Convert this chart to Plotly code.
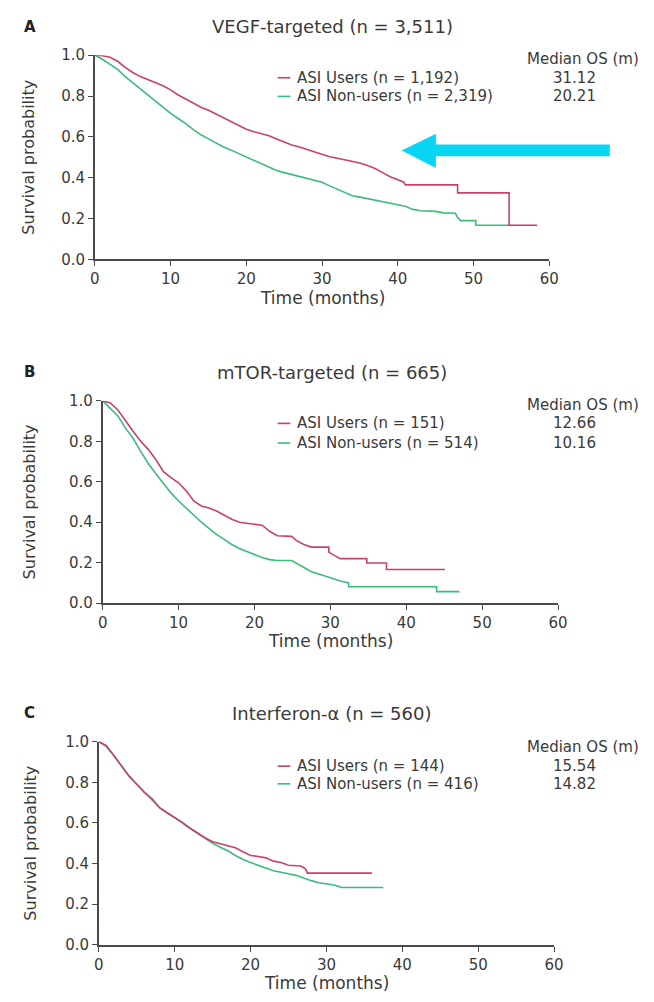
import plotly.graph_objects as go

W, H = 654, 1002

# ---------------- data ----------------
# Panel A: VEGF-targeted
a_users_t = [0, 1, 2, 3, 4, 5, 6, 7, 8, 9, 10, 11, 12, 13, 14, 15, 16, 17, 18, 19, 20, 21, 22, 23, 24, 25, 26, 27, 28, 29, 30,
             31, 32, 33, 34, 35, 36, 37, 38, 39, 40, 40.8, 41, 47.9, 47.9, 54.7, 54.7, 58.4]
a_users_s = [1.0, 0.997, 0.99, 0.97, 0.94, 0.915, 0.895, 0.88, 0.865, 0.85, 0.83, 0.805, 0.785, 0.765, 0.745, 0.73, 0.712,
             0.695, 0.675, 0.655, 0.637, 0.625, 0.615, 0.605, 0.59, 0.575, 0.56, 0.55, 0.538, 0.525, 0.512, 0.503, 0.495,
             0.487, 0.478, 0.472, 0.46, 0.445, 0.425, 0.405, 0.39, 0.378, 0.365, 0.365, 0.326, 0.326, 0.167, 0.167]
a_non_t = [0, 1, 2, 3, 4, 5, 6, 7, 8, 9, 10, 11, 12, 13, 14, 15, 16, 17, 18, 19, 20, 21, 22, 23, 24, 25, 26, 27, 28, 29, 30,
           31, 32, 33, 34, 35, 36, 37, 38, 39, 40, 41, 42, 43, 45, 46, 47.6, 47.9, 48.3, 50.3, 50.3, 54.7]
a_non_s = [1.0, 0.98, 0.955, 0.93, 0.895, 0.865, 0.835, 0.805, 0.775, 0.745, 0.715, 0.69, 0.665, 0.635, 0.61, 0.59, 0.57,
           0.55, 0.535, 0.518, 0.502, 0.485, 0.468, 0.45, 0.435, 0.425, 0.415, 0.405, 0.397, 0.388, 0.378, 0.36, 0.343,
           0.325, 0.312, 0.305, 0.298, 0.292, 0.285, 0.275, 0.268, 0.26, 0.245, 0.238, 0.235, 0.228, 0.226, 0.205, 0.19,
           0.19, 0.167, 0.167]

# Panel B: mTOR-targeted
b_users_t = [0, 1, 2, 3, 4, 5, 6, 7, 8, 9, 10, 11, 12, 13, 14, 15, 16, 17, 18, 19, 20, 21, 22, 23, 24.9, 25.5, 26.5, 27.5,
             29.8, 29.8, 30.5, 31.3, 34.8, 34.8, 37.4, 37.4, 45.1]
b_users_s = [1.0, 0.99, 0.955, 0.9, 0.85, 0.8, 0.76, 0.71, 0.65, 0.62, 0.595, 0.555, 0.505, 0.48, 0.47, 0.455, 0.435, 0.415,
             0.4, 0.395, 0.39, 0.385, 0.355, 0.333, 0.33, 0.31, 0.29, 0.277, 0.277, 0.252, 0.236, 0.22, 0.22, 0.198,
             0.198, 0.166, 0.166]
b_non_t = [0, 1, 2, 3, 4, 5, 6, 7, 8, 9, 10, 11, 12, 13, 14, 15, 16, 17, 18, 19, 20, 21, 22, 23, 24.9, 26, 27.5, 29.6, 31.3,
           32.4, 32.4, 44, 44, 47]
b_non_s = [1.0, 0.965, 0.925, 0.865, 0.815, 0.75, 0.69, 0.64, 0.59, 0.545, 0.505, 0.47, 0.432, 0.4, 0.37, 0.34, 0.315, 0.29,
           0.27, 0.255, 0.24, 0.225, 0.215, 0.211, 0.211, 0.187, 0.155, 0.13, 0.109, 0.1, 0.081, 0.081, 0.057, 0.057]

# Panel C: Interferon-alpha
c_users_t = [0, 1, 2, 3, 4, 5, 6, 7, 8, 9, 10, 11, 12, 13, 14, 15, 16, 17, 18, 19, 20, 21, 22, 23, 24, 25, 26.6, 27.2, 27.5, 36]
c_users_s = [1.0, 0.98, 0.93, 0.88, 0.83, 0.79, 0.75, 0.72, 0.675, 0.65, 0.628, 0.603, 0.575, 0.55, 0.527, 0.507, 0.498,
             0.487, 0.478, 0.458, 0.44, 0.435, 0.428, 0.412, 0.405, 0.392, 0.388, 0.375, 0.353, 0.353]
c_non_t = [0, 1, 2, 3, 4, 5, 6, 7, 8, 9, 10, 11, 12, 13, 14, 15, 16, 17, 18, 19, 20, 21, 22, 23, 24, 25, 26, 27, 28, 29, 30,
           31, 32, 37.5]
c_non_s = [1.0, 0.975, 0.93, 0.88, 0.83, 0.79, 0.752, 0.718, 0.675, 0.65, 0.626, 0.6, 0.573, 0.548, 0.524, 0.5, 0.48, 0.463,
           0.44, 0.42, 0.405, 0.39, 0.378, 0.365, 0.356, 0.35, 0.342, 0.328, 0.316, 0.306, 0.3, 0.295, 0.282, 0.282]

panel_letters = ["A", "B", "C"]
panel_titles = ["VEGF-targeted (n = 3,511)", "mTOR-targeted (n = 665)", "Interferon-α (n = 560)"]
users_labels = ["ASI Users (n = 1,192)", "ASI Users (n = 151)", "ASI Users (n = 144)"]
non_labels = ["ASI Non-users (n = 2,319)", "ASI Non-users (n = 514)", "ASI Non-users (n = 416)"]
users_median = ["31.12", "12.66", "15.54"]
non_median = ["20.21", "10.16", "14.82"]
x_ticks = [0, 10, 20, 30, 40, 50, 60]
y_ticks = [0.0, 0.2, 0.4, 0.6, 0.8, 1.0]

# ---------------- layout geometry (pixels) ----------------
RED = "#c9416b"
GREEN = "#3dbb7a"
TXT = "#3a3a3a"
AX = "#4a4a4a"
FONT = "DejaVu Sans"

def px(x):
    return x / W

def py(y):
    return 1 - y / H

# (x0, x60, y_top(1.0), y_bottom(0.0))
boxes = [(92, 557, 47, 255), (100, 566, 399, 605), (96, 562, 746, 953)]
title_y = [18, 370, 717]
xtitle_y = [294, 644, 992]
ytitle_x = [24, 26, 26]
leg_y = [(70, 89), (422, 442), (771, 789)]
med_y = [51, 403, 752]

series = [
    (a_users_t, a_users_s, a_non_t, a_non_s),
    (b_users_t, b_users_s, b_non_t, b_non_s),
    (c_users_t, c_users_s, c_non_t, c_non_s),
]

fig = go.Figure()
annotations = []
shapes = []

for i, (ut, us, nt, ns) in enumerate(series):
    k = "" if i == 0 else str(i + 1)
    fig.add_trace(go.Scatter(x=nt, y=ns, mode="lines", line=dict(color=GREEN, width=1.6),
                             xaxis="x" + k, yaxis="y" + k, showlegend=False, hoverinfo="skip"))
    fig.add_trace(go.Scatter(x=ut, y=us, mode="lines", line=dict(color=RED, width=1.6),
                             xaxis="x" + k, yaxis="y" + k, showlegend=False, hoverinfo="skip"))
    x0, x1, yt, yb = boxes[i]
    axis_common = dict(showgrid=False, zeroline=False, showline=True, linecolor=AX, linewidth=1.6,
                       ticks="outside", ticklen=5, tickwidth=1.4, tickcolor=AX,
                       tickfont=dict(family=FONT, size=15, color=TXT), fixedrange=True)
    fig.layout["xaxis" + k] = dict(domain=[px(x0), px(x1)], range=[0, 60], anchor="y" + k,
                                   tickvals=x_ticks, ticktext=[str(v) for v in x_ticks], **axis_common)
    fig.layout["yaxis" + k] = dict(domain=[py(yb), py(yt)], range=[0, 1], anchor="x" + k,
                                   tickvals=y_ticks, ticktext=["%.1f" % v for v in y_ticks], **axis_common)

    cx = (x0 + x1) / 2
    annotations.append(dict(text="<b>%s</b>" % panel_letters[i], x=px(17), y=py(title_y[i]), xref="paper", yref="paper",
                            xanchor="left", yanchor="middle", showarrow=False,
                            font=dict(family=FONT, size=15, color="#222")))
    annotations.append(dict(text=panel_titles[i], x=px(335), y=py(title_y[i]), xref="paper", yref="paper",
                            xanchor="center", yanchor="middle", showarrow=False,
                            font=dict(family=FONT, size=18, color=TXT)))
    annotations.append(dict(text="Time (months)", x=px(cx), y=py(xtitle_y[i]), xref="paper", yref="paper",
                            xanchor="center", yanchor="middle", showarrow=False,
                            font=dict(family=FONT, size=17, color=TXT)))
    annotations.append(dict(text="Survival probability", x=px(ytitle_x[i]), y=py((yt + yb) / 2), xref="paper",
                            yref="paper", xanchor="center", yanchor="middle", showarrow=False, textangle=-90,
                            font=dict(family=FONT, size=16, color=TXT)))
    # legend
    for (lab, col, ly) in [(users_labels[i], RED, leg_y[i][0]), (non_labels[i], GREEN, leg_y[i][1])]:
        shapes.append(dict(type="line", xref="paper", yref="paper", x0=px(279), x1=px(292), y0=py(ly), y1=py(ly),
                           line=dict(color=col, width=1.6)))
        annotations.append(dict(text=lab, x=px(297), y=py(ly), xref="paper", yref="paper", xanchor="left",
                                yanchor="middle", showarrow=False, font=dict(family=FONT, size=15, color=TXT)))
    annotations.append(dict(text="Median OS (m)", x=px(651), y=py(med_y[i]), xref="paper", yref="paper",
                            xanchor="right", yanchor="middle", showarrow=False,
                            font=dict(family=FONT, size=15, color=TXT)))
    annotations.append(dict(text=users_median[i], x=px(583), y=py(leg_y[i][0]), xref="paper", yref="paper",
                            xanchor="center", yanchor="middle", showarrow=False,
                            font=dict(family=FONT, size=15, color=TXT)))
    annotations.append(dict(text=non_median[i], x=px(583), y=py(leg_y[i][1]), xref="paper", yref="paper",
                            xanchor="center", yanchor="middle", showarrow=False,
                            font=dict(family=FONT, size=15, color=TXT)))

# cyan arrow in panel A
arrow_pts = [(406, 144), (441, 127), (441, 138), (619, 138), (619, 150), (441, 150), (441, 162)]
path = "M " + " L ".join("%.5f,%.5f" % (px(x), py(y)) for x, y in arrow_pts) + " Z"
shapes.append(dict(type="path", path=path, xref="paper", yref="paper", fillcolor="#08d6f2",
                   line=dict(width=0)))

fig.update_layout(width=W, height=H, margin=dict(l=0, r=0, t=0, b=0), paper_bgcolor="white",
                  plot_bgcolor="white", showlegend=False, annotations=annotations, shapes=shapes)

fig.write_html("out.html")
